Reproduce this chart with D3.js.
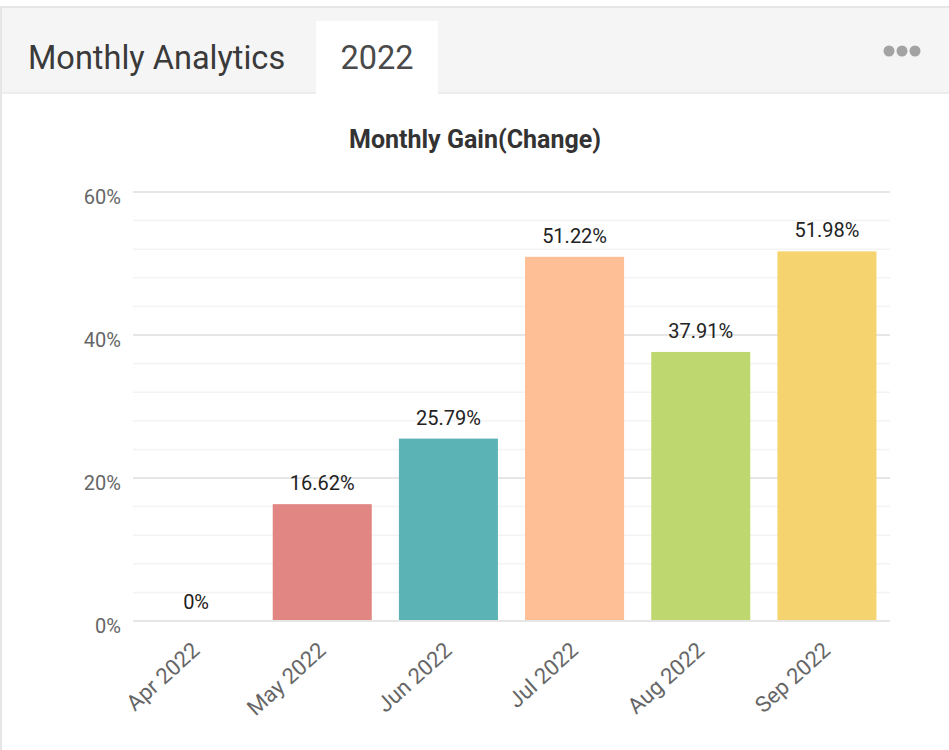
<!DOCTYPE html>
<html>
<head>
<meta charset="utf-8">
<script src="https://cdn.jsdelivr.net/npm/d3@7"></script>
<style>
  body { margin: 0; background: #fff; font-family: Roboto, "Noto Sans", sans-serif; }
</style>
</head>
<body>
<script>
const months = ['Apr 2022', 'May 2022', 'Jun 2022', 'Jul 2022', 'Aug 2022', 'Sep 2022']
const gains = [0, 16.62, 25.79, 51.22, 37.91, 51.98]
const barColors = ['#e6e6e6', '#e18683', '#5bb3b5', '#febe96', '#bed86f', '#f5d46f']
const yTicks = [0, 20, 40, 60]

const W = 949, H = 750

const svg = d3.select('body').append('svg')
		.attr('width', W)
		.attr('height', H)

// card header
svg.append('rect').attr('x', 0).attr('y', 6).attr('width', W).attr('height', H - 6).attr('fill', '#fff')
svg.append('rect').attr('x', 0).attr('y', 8).attr('width', W).attr('height', 85).attr('fill', '#f5f5f5')
svg.append('line').attr('x1', 0).attr('x2', W).attr('y1', 7).attr('y2', 7).attr('stroke', '#e6e6e6').attr('stroke-width', 2)
svg.append('line').attr('x1', 0).attr('x2', W).attr('y1', 93).attr('y2', 93).attr('stroke', '#e8e8e8').attr('stroke-width', 1.5)
svg.append('line').attr('x1', 1).attr('x2', 1).attr('y1', 6).attr('y2', H).attr('stroke', '#e6e6e6').attr('stroke-width', 2)
svg.append('rect').attr('x', 316).attr('y', 21).attr('width', 122).attr('height', 74).attr('fill', '#fff')

svg.append('text')
		.attr('x', 28).attr('y', 69)
		.attr('font-size', 32.5).attr('fill', '#3a3a3a')
		.text('Monthly Analytics')
svg.append('text')
		.attr('x', 377).attr('y', 69)
		.attr('text-anchor', 'middle')
		.attr('font-size', 32.5).attr('fill', '#4a4a4a')
		.text('2022')
svg.selectAll('.dot')
		.data([0, 1, 2])
	.enter().append('circle')
		.attr('cx', d => 889 + d * 13).attr('cy', 51).attr('r', 5.5)
		.attr('fill', '#a3a3a3')

// chart
svg.append('text')
		.attr('x', 475).attr('y', 148)
		.attr('text-anchor', 'middle')
		.attr('font-size', 25).attr('font-weight', 'bold').attr('fill', '#333')
		.text('Monthly Gain(Change)')

const x = d3.scaleBand()
	.domain(months)
	.range([133, 890])
	.padding(0)

const y = d3.scaleLinear()
	.domain([0, 60])
	.range([621, 192])

// minor grid every 4%, major every 20%
svg.append('g')
	.selectAll('line')
		.data(d3.range(0, 61, 4))
	.enter().append('line')
		.attr('x1', 133).attr('x2', 890)
		.attr('y1', d => y(d)).attr('y2', d => y(d))
		.attr('stroke', d => d % 20 === 0 ? '#e6e6e6' : '#f3f3f3')
		.attr('stroke-width', d => d % 20 === 0 ? 2 : 1.5)

svg.append('g')
	.selectAll('text')
		.data(yTicks)
	.enter().append('text')
		.attr('x', 121).attr('y', d => y(d) + 7)
		.attr('text-anchor', 'end')
		.attr('dominant-baseline', 'middle')
		.attr('font-size', 20).attr('fill', '#666')
		.text(d => d + '%')

const barW = x.bandwidth() * 0.785

svg.append('g')
	.selectAll('rect')
		.data(gains)
	.enter().append('rect')
		.attr('x', (d, i) => x(months[i]) + (x.bandwidth() - barW) / 2)
		.attr('y', d => y(d) + 2)
		.attr('width', barW)
		.attr('height', d => Math.max(0, y(0) - y(d) - 3))
		.attr('fill', (d, i) => barColors[i])

svg.append('g')
	.selectAll('text')
		.data(gains)
	.enter().append('text')
		.attr('x', (d, i) => x(months[i]) + x.bandwidth() / 2)
		.attr('y', d => y(d) - 12)
		.attr('text-anchor', 'middle')
		.attr('font-size', 20).attr('fill', '#222')
		.text(d => d + '%')

svg.append('g')
	.selectAll('text')
		.data(months)
	.enter().append('text')
		.attr('transform', d => `translate(${x(d) + x.bandwidth() / 2 + 1}, ${648}) rotate(-42)`)
		.attr('text-anchor', 'end')
		.attr('dominant-baseline', 'middle')
		.attr('font-size', 22).attr('fill', '#666')
		.text(d => d)
</script>
</body>
</html>
